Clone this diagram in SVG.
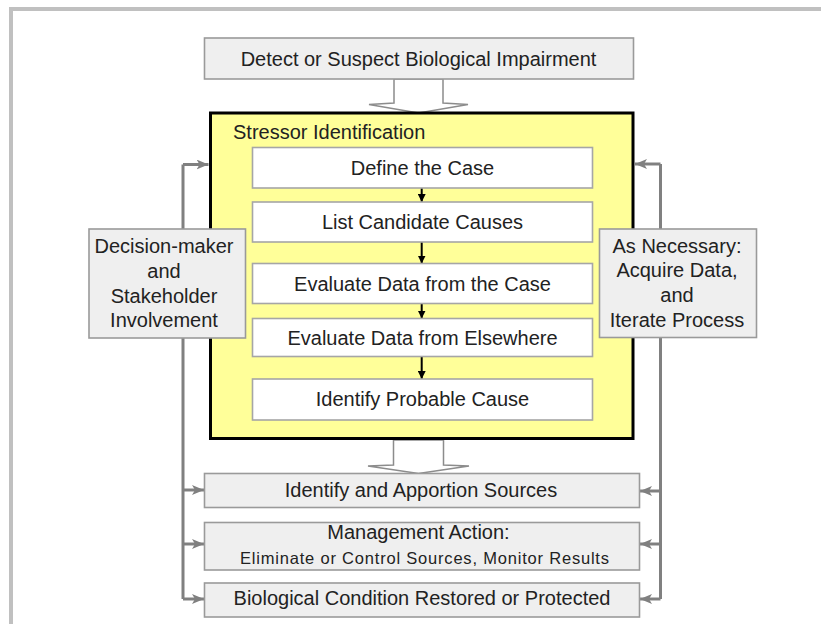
<svg xmlns="http://www.w3.org/2000/svg" width="821" height="624" viewBox="0 0 821 624">
<style>
text{font-family:"Liberation Sans",Arial,sans-serif;font-size:20px;fill:#222222}
.c{text-anchor:middle}
.gbox{fill:#efefef;stroke:#9a9a9a;stroke-width:1.6}
.wbox{fill:#ffffff;stroke:#a6a6a6;stroke-width:1.6}
.hollow{fill:#ffffff;stroke:#8c8c8c;stroke-width:1.5}
.fb{fill:none;stroke:#808080;stroke-width:3;marker-end:url(#ga)}
.fbl{fill:none;stroke:#808080;stroke-width:3}
.bk{fill:none;stroke:#000;stroke-width:2;marker-end:url(#ba)}
</style>
<defs>
<marker id="ga" viewBox="0 0 12 10" refX="12" refY="5" markerWidth="12" markerHeight="10" markerUnits="userSpaceOnUse" orient="auto">
<path d="M0,0 L12,5 L0,10 L3,5 z" fill="#808080"/>
</marker>
<marker id="ba" viewBox="0 0 8 8" refX="8" refY="4" markerWidth="8" markerHeight="8" markerUnits="userSpaceOnUse" orient="auto">
<path d="M0,0 L8,4 L0,8 z" fill="#000"/>
</marker>
</defs>
<rect x="11" y="9" width="900" height="700" fill="none" stroke="#c0c0c0" stroke-width="4"/>

<g id="connectors">
<polygon class="hollow" points="394,79 443,79 443,103 468,104.5 418.5,113 369,104.5 394,103"/>
<polygon class="hollow" points="393.5,440 443.5,440 443.5,465 469,466 418.5,473.5 368,466 393.5,465"/>
<path class="fbl" d="M183,164.5 V599"/>
<path class="fb" d="M183,164.5 H208.5"/>
<path class="fb" d="M183,490 H204"/>
<path class="fb" d="M183,544 H204"/>
<path class="fb" d="M183,599 H204"/>
<path class="fbl" d="M660.5,164 V599"/>
<path class="fb" d="M660.5,164 H635"/>
<path class="fb" d="M660.5,491 H640"/>
<path class="fb" d="M660.5,544 H640"/>
<path class="fb" d="M660.5,599 H640"/>
</g>

<g id="detect">
<rect class="gbox" x="204.5" y="38" width="429" height="41"/>
<text class="c" x="418.5" y="66">Detect or Suspect Biological Impairment</text>
</g>

<g id="stressor-identification">
<rect x="210.5" y="113" width="422.5" height="325.5" fill="#ffff99" stroke="#000" stroke-width="3"/>
<text x="233" y="139">Stressor Identification</text>
</g>

<g id="steps-connectors">
<path class="bk" d="M421.7,188 V202"/>
<path class="bk" d="M421.7,242 V263.5"/>
<path class="bk" d="M421.7,303.5 V318.5"/>
<path class="bk" d="M421.7,356.5 V379"/>
</g>

<g id="define-case">
<rect class="wbox" x="252.5" y="147.5" width="340" height="40.5"/>
<text class="c" x="422.5" y="174.5">Define the Case</text>
</g>
<g id="list-causes">
<rect class="wbox" x="252.5" y="202" width="340" height="40"/>
<text class="c" x="422.5" y="229">List Candidate Causes</text>
</g>
<g id="eval-case">
<rect class="wbox" x="252.5" y="263.5" width="340" height="40"/>
<text class="c" x="422.5" y="290.5">Evaluate Data from the Case</text>
</g>
<g id="eval-elsewhere">
<rect class="wbox" x="252.5" y="318.5" width="340" height="38"/>
<text class="c" x="422.5" y="344.5">Evaluate Data from Elsewhere</text>
</g>
<g id="probable-cause">
<rect class="wbox" x="252.5" y="379" width="340" height="41"/>
<text class="c" x="422.5" y="406">Identify Probable Cause</text>
</g>

<g id="decision-maker">
<rect class="gbox" x="89" y="229" width="156.5" height="109"/>
<text class="c" x="164" y="253">Decision-maker</text>
<text class="c" x="164" y="278">and</text>
<text class="c" x="164" y="302.5">Stakeholder</text>
<text class="c" x="164" y="327">Involvement</text>
</g>

<g id="as-necessary">
<rect class="gbox" x="599.5" y="229" width="157" height="108.5"/>
<text class="c" x="677" y="253">As Necessary:</text>
<text class="c" x="677" y="277">Acquire Data,</text>
<text class="c" x="677" y="301.5">and</text>
<text class="c" x="677" y="326.5">Iterate Process</text>
</g>

<g id="apportion-sources">
<rect class="gbox" x="204.5" y="473.5" width="435" height="34"/>
<text class="c" x="421" y="497">Identify and Apportion Sources</text>
</g>

<g id="management-action">
<rect class="gbox" x="204.5" y="522.5" width="435" height="47.5"/>
<text class="c" x="418.5" y="538.5">Management Action:</text>
<text class="c" x="424.5" y="563.5" style="font-size:16.5px" textLength="369" lengthAdjust="spacing">Eliminate or Control Sources,  Monitor Results</text>
</g>

<g id="condition-restored">
<rect class="gbox" x="204.5" y="583" width="435" height="34"/>
<text class="c" x="422" y="605">Biological Condition Restored or Protected</text>
</g>
</svg>
